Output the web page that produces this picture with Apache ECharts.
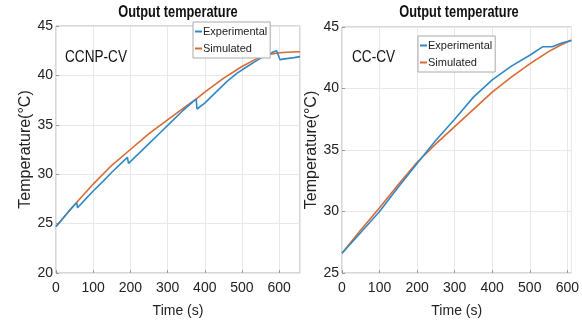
<!DOCTYPE html>
<html>
<head>
<meta charset="utf-8">
<script src="https://cdn.jsdelivr.net/npm/echarts@6/dist/echarts.min.js"></script>
<style>
  html, body { margin: 0; padding: 0; background: #fff; }
  #chart { width: 582px; height: 323px; }
</style>
</head>
<body>
<div id="chart"></div>
<script>
// CCNP-CV charging: time (s) and output temperature (°C)
const ccnpExpTime = [0, 20, 40, 50, 56, 58, 80, 100, 127, 150, 175, 192, 195, 220, 250, 280, 310, 340, 370, 377, 379, 400, 430, 460, 486, 510, 535, 557, 575, 585, 593, 598, 602, 620, 640, 656];
const ccnpExpTemp = [24.7, 25.6, 26.5, 26.9, 27.1, 26.6, 27.5, 28.3, 29.3, 30.2, 31.1, 31.7, 31.1, 32.0, 33.1, 34.2, 35.3, 36.4, 37.4, 37.6, 36.6, 37.2, 38.3, 39.4, 40.2, 40.8, 41.4, 41.9, 42.2, 42.4, 42.5, 42.4, 41.6, 41.7, 41.8, 41.9];
const ccnpSimTime = [0, 50, 100, 150, 200, 250, 300, 350, 380, 400, 450, 500, 540, 570, 600, 620, 656];
const ccnpSimTemp = [24.7, 26.9, 29.0, 30.9, 32.5, 34.1, 35.5, 36.9, 37.7, 38.3, 39.7, 40.9, 41.7, 42.1, 42.3, 42.35, 42.4];

// CC-CV charging
const cccvExpTime = [0, 50, 100, 150, 200, 250, 300, 350, 400, 450, 500, 535, 560, 585, 611];
const cccvExpTemp = [26.6, 28.3, 30.0, 32.0, 33.9, 35.8, 37.5, 39.3, 40.7, 41.8, 42.7, 43.4, 43.4, 43.7, 43.9];
const cccvSimTime = [0, 50, 100, 150, 200, 250, 300, 350, 400, 450, 500, 550, 580, 611];
const cccvSimTemp = [26.6, 28.5, 30.3, 32.2, 34.0, 35.5, 36.9, 38.3, 39.7, 40.9, 42.0, 43.0, 43.5, 43.95];

const seriesNames = ['Experimental', 'Simulated'];
const plotTitle = 'Output temperature';
const panelLabels = ['CCNP-CV', 'CC-CV'];
const xAxisTitle = 'Time (s)';
const yAxisTitle = 'Temperature(°C)';

const blue = '#3089c6';
const orange = '#d96a34';
const font = '"Liberation Sans", Arial, sans-serif';

const zip = (xs, ys) => xs.map((x, i) => [x, ys[i]]);

function xAxis(idx, max) {
  return {
    type: 'value', gridIndex: idx, min: 0, max: max, interval: 100,
    name: xAxisTitle, nameLocation: 'middle', nameGap: 31,
    nameTextStyle: { fontFamily: font, fontSize: 14, color: '#222' },
    axisLine: { show: false },
    axisTick: { show: true, inside: true, length: 3, lineStyle: { color: '#999' } },
    axisLabel: { showMaxLabel: false, fontFamily: font, fontSize: 14, color: '#222', margin: 8 },
    splitLine: { show: true, lineStyle: { color: '#e8e8e8' } }
  };
}
function yAxis(idx, min) {
  return {
    type: 'value', gridIndex: idx, min: min, max: 45, interval: 5,
    name: yAxisTitle, nameLocation: 'middle', nameGap: 22, nameRotate: 90,
    nameTextStyle: { fontFamily: font, fontSize: 16, color: '#222' },
    axisLine: { show: false },
    axisTick: { show: true, inside: true, length: 3, lineStyle: { color: '#999' } },
    axisLabel: { fontFamily: font, fontSize: 14, color: '#222', margin: 3 },
    splitLine: { show: true, lineStyle: { color: '#e8e8e8' } }
  };
}
function line(name, data, color, idx) {
  return {
    type: 'line', name: name, xAxisIndex: idx, yAxisIndex: idx,
    data: data, showSymbol: false, symbol: 'none', smooth: false,
    lineStyle: { color: color, width: 1.6 }, itemStyle: { color: color },
    animation: false, z: name === 'Experimental' ? 3 : 2
  };
}
function legend(left, top) {
  return {
    data: seriesNames, orient: 'vertical', left: left, top: top,
    icon: 'rect', itemWidth: 7, itemHeight: 2, itemGap: 6,
    padding: [4, 3, 4, 2], backgroundColor: '#fff',
    borderColor: '#aaa', borderWidth: 1, borderRadius: 0,
    textStyle: { fontFamily: font, fontSize: 11, color: '#222', padding: [0, 0, 0, -4] }
  };
}
// Condensed text, drawn narrower to suit the heavy MATLAB-style lettering
function label(text, x, y, size, weight, align) {
  return {
    type: 'text', x: x, y: y, scaleX: 0.8, z: 10,
    style: { text: text, font: weight + ' ' + size + 'px ' + font, fill: '#111', align: align, verticalAlign: 'middle' }
  };
}

const chart = echarts.init(document.getElementById('chart'), null, { renderer: 'canvas' });
chart.setOption({
  animation: false,
  backgroundColor: '#fff',
  grid: [
    { left: 56, top: 26, width: 244, height: 247, show: true, borderColor: '#b0b0b0', borderWidth: 1, backgroundColor: '#fff' },
    { left: 342, top: 27, width: 231, height: 246, show: true, borderColor: '#b0b0b0', borderWidth: 1, backgroundColor: '#fff' }
  ],
  xAxis: [xAxis(0, 656), xAxis(1, 611)],
  yAxis: [yAxis(0, 20), yAxis(1, 25)],
  legend: [legend(193, 22), legend(418, 36)],
  series: [
    line(seriesNames[0], zip(ccnpExpTime, ccnpExpTemp), blue, 0),
    line(seriesNames[1], zip(ccnpSimTime, ccnpSimTemp), orange, 0),
    line(seriesNames[0], zip(cccvExpTime, cccvExpTemp), blue, 1),
    line(seriesNames[1], zip(cccvSimTime, cccvSimTemp), orange, 1)
  ],
  graphic: [
    label(plotTitle, 178, 13, 16, 'bold', 'center'),
    label(plotTitle, 459, 13, 16, 'bold', 'center'),
    label(panelLabels[0], 65, 57, 17, 'normal', 'left'),
    label(panelLabels[1], 352, 57, 17, 'normal', 'left')
  ]
});
</script>
</body>
</html>
